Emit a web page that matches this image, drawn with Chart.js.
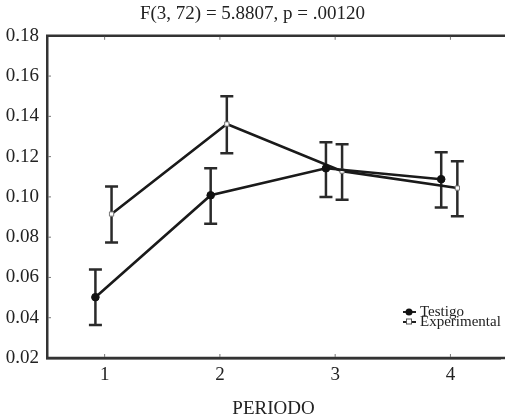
<!DOCTYPE html>
<html>
<head>
<meta charset="utf-8">
<script src="https://cdn.jsdelivr.net/npm/chart.js@4"></script>
<style>
  html, body { margin: 0; padding: 0; background: #fff; }
  canvas { display: block; }
</style>
</head>
<body>
<canvas id="chart" width="505" height="417"></canvas>
<script>
// Datos
const periods = [1, 2, 3, 4];
const periodLabels = ["1", "2", "3", "4"];
const yTicks = [0.02, 0.04, 0.06, 0.08, 0.10, 0.12, 0.14, 0.16, 0.18];

const testigoMean = [0.0502, 0.1008, 0.1142, 0.1088];
const testigoLow = [0.0364, 0.0867, 0.1000, 0.0947];
const testigoHigh = [0.0640, 0.1142, 0.1272, 0.1222];

const experimentalMean = [0.0915, 0.1362, 0.1128, 0.1044];
const experimentalLow = [0.0773, 0.1217, 0.0986, 0.0904];
const experimentalHigh = [0.1052, 0.1500, 0.1262, 0.1177];

const titleText = "F(3, 72) = 5.8807, p = .00120";
const xTitle = "PERIODO";

const SERIF = "'Liberation Serif', 'DejaVu Serif', serif";
const INK = "#222";

// desplazamiento horizontal de cada serie (como en el original)
const shiftTestigo = -0.08;
const shiftExperimental = 0.06;

function toPoints(means, lows, highs, shift) {
  return periods.map((p, i) => ({ x: p + shift, y: means[i], lo: lows[i], hi: highs[i] }));
}

// Barras de error + marco superior + marcas internas + leyenda
const errorBarsPlugin = {
  id: "errorBars",
  beforeDatasetsDraw(chart) {
    const { ctx, scales } = chart;
    const xs = scales.x;
    const ys = scales.y;
    ctx.save();
    ctx.strokeStyle = "#2a2a2a";
    ctx.lineWidth = 2.5;
    chart.data.datasets.forEach((ds) => {
      ds.data.forEach((pt) => {
        const px = xs.getPixelForValue(pt.x);
        const top = ys.getPixelForValue(pt.hi);
        const bot = ys.getPixelForValue(pt.lo);
        ctx.beginPath();
        ctx.moveTo(px, top);
        ctx.lineTo(px, bot);
        ctx.moveTo(px - 6.5, top);
        ctx.lineTo(px + 6.5, top);
        ctx.moveTo(px - 6.5, bot);
        ctx.lineTo(px + 6.5, bot);
        ctx.stroke();
      });
    });
    ctx.restore();
  },
  afterDraw(chart) {
    const { ctx, chartArea, scales } = chart;
    ctx.save();
    ctx.strokeStyle = "#333";
    ctx.lineWidth = 2.5;
    ctx.beginPath();
    ctx.moveTo(chartArea.left - 1, chartArea.top);
    ctx.lineTo(chart.width, chartArea.top);
    ctx.moveTo(chartArea.left - 1, chartArea.bottom);
    ctx.lineTo(chart.width, chartArea.bottom);
    ctx.stroke();

    // pequenas marcas internas
    ctx.strokeStyle = "#777";
    ctx.lineWidth = 1;
    ctx.beginPath();
    periods.forEach((p) => {
      const px = scales.x.getPixelForValue(p);
      ctx.moveTo(px, chartArea.top + 1);
      ctx.lineTo(px, chartArea.top + 4);
      ctx.moveTo(px, chartArea.bottom - 1);
      ctx.lineTo(px, chartArea.bottom - 4);
    });
    yTicks.slice(1, -1).forEach((v) => {
      const py = scales.y.getPixelForValue(v);
      ctx.moveTo(chartArea.left + 1, py);
      ctx.lineTo(chartArea.left + 4, py);
    });
    ctx.stroke();

    // leyenda
    const lx = 409;
    const rows = [
      { y: 312, label: "Testigo", style: "circle" },
      { y: 322, label: "Experimental", style: "rect" },
    ];
    rows.forEach((r) => {
      ctx.strokeStyle = "#222";
      ctx.lineWidth = 2;
      ctx.beginPath();
      ctx.moveTo(lx - 6, r.y);
      ctx.lineTo(lx + 7, r.y);
      ctx.stroke();
      if (r.style === "circle") {
        ctx.fillStyle = "#111";
        ctx.beginPath();
        ctx.arc(lx, r.y, 3.5, 0, Math.PI * 2);
        ctx.fill();
      } else {
        ctx.fillStyle = "#fff";
        ctx.strokeStyle = "#555";
        ctx.lineWidth = 1;
        ctx.fillRect(lx - 2.5, r.y - 3, 5, 5);
        ctx.strokeRect(lx - 2.5, r.y - 3, 5, 5);
      }
      ctx.fillStyle = INK;
      ctx.font = "15px " + SERIF;
      ctx.textBaseline = "middle";
      ctx.textAlign = "left";
      ctx.fillText(r.label, 420, r.y);
    });
    ctx.restore();
  },
};

const ctx = document.getElementById("chart").getContext("2d");
new Chart(ctx, {
  type: "line",
  data: {
    datasets: [
      {
        label: "Testigo",
        data: toPoints(testigoMean, testigoLow, testigoHigh, shiftTestigo),
        borderColor: "#1a1a1a",
        borderWidth: 2.6,
        pointStyle: "circle",
        pointRadius: 3.8,
        pointBackgroundColor: "#111",
        pointBorderColor: "#111",
        pointBorderWidth: 1,
        tension: 0,
      },
      {
        label: "Experimental",
        data: toPoints(experimentalMean, experimentalLow, experimentalHigh, shiftExperimental),
        borderColor: "#1a1a1a",
        borderWidth: 2.6,
        pointStyle: "rect",
        pointRadius: 3,
        pointBackgroundColor: "#fff",
        pointBorderColor: "#777",
        pointBorderWidth: 1,
        tension: 0,
      },
    ],
  },
  options: {
    responsive: false,
    animation: false,
    layout: { padding: { top: 1, right: 0, bottom: 0, left: 0 } },
    plugins: {
      legend: { display: false },
      tooltip: { enabled: false },
      title: {
        display: true,
        text: titleText,
        color: INK,
        font: { family: SERIF, size: 19, weight: "normal" },
        padding: { top: 2, bottom: 10 },
      },
    },
    scales: {
      x: {
        type: "linear",
        min: 0.5,
        max: 4.43,
        grid: { display: false, drawTicks: false },
        border: { display: true, color: "#333", width: 2.5 },
        afterBuildTicks: (scale) => {
          scale.ticks = periods.map((p) => ({ value: p }));
        },
        afterFit: (scale) => {
          scale.height = 59;
        },
        ticks: {
          color: INK,
          padding: 6,
          font: { family: SERIF, size: 19 },
          callback: (v) => periodLabels[periods.indexOf(v)] ?? "",
        },
        title: {
          display: true,
          text: xTitle,
          color: INK,
          font: { family: SERIF, size: 19 },
          padding: { top: 13, bottom: -3 },
        },
      },
      y: {
        min: 0.02,
        max: 0.18,
        grid: { display: false, drawTicks: false },
        border: { display: true, color: "#333", width: 2.5 },
        afterBuildTicks: (scale) => {
          scale.ticks = yTicks.map((v) => ({ value: v }));
        },
        afterFit: (scale) => {
          scale.width = 47;
        },
        ticks: {
          color: INK,
          padding: 8,
          font: { family: SERIF, size: 19 },
          callback: (v) => Number(v).toFixed(2),
        },
      },
    },
  },
  plugins: [errorBarsPlugin],
});
</script>
</body>
</html>
